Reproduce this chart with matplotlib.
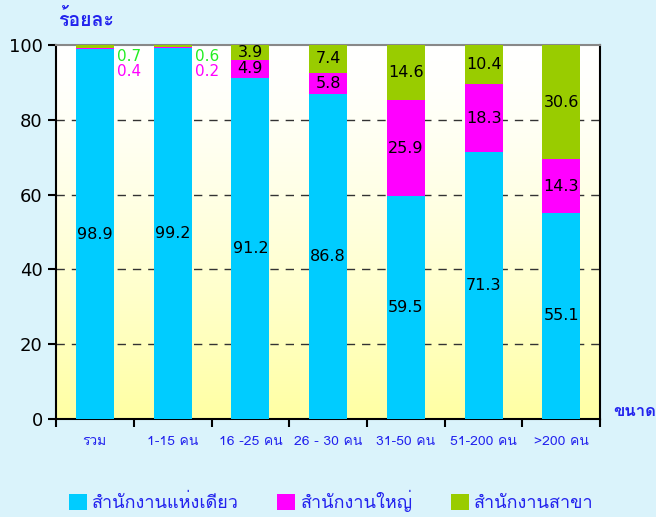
import numpy as np
import matplotlib.pyplot as plt
from matplotlib import font_manager

# categories and values (percent)
categories = ['รวม', '1-15 คน', '16 -25 คน', '26 - 30 คน', '31-50 คน', '51-200 คน', '>200 คน']
single_office = [98.9, 99.2, 91.2, 86.8, 59.5, 71.3, 55.1]
head_office = [0.4, 0.2, 4.9, 5.8, 25.9, 18.3, 14.3]
branch_office = [0.7, 0.6, 3.9, 7.4, 14.6, 10.4, 30.6]
series_names = ['สำนักงานแห่งเดียว', 'สำนักงานใหญ่', 'สำนักงานสาขา']

# pick a font that has Thai glyphs
thai_candidates = ['Tahoma', 'Loma', 'Garuda', 'Norasi', 'Noto Sans Thai', 'Noto Sans Thai UI',
                   'Sarabun', 'TH Sarabun New', 'Kinnari', 'Waree', 'Umpush', 'Laksaman']
installed = {f.name for f in font_manager.fontManager.ttflist}
thai_fam = [f for f in thai_candidates if f in installed] + ['DejaVu Sans']
plt.rcParams['font.family'] = ['DejaVu Sans']

c_single = '#00CCFF'
c_head = '#FF00FF'
c_branch = '#99CC00'
bg = '#DAF3FB'
blue_txt = '#2222EE'

fig = plt.figure(figsize=(6.56, 5.17), dpi=100, facecolor=bg)
ax = fig.add_axes([0.0854, 0.1896, 0.8296, 0.7234])

x = np.arange(len(categories))
w = 0.49

# gradient background of the plot area (white at top, pale yellow at bottom)
grad = np.linspace(0, 1, 256).reshape(-1, 1)
top = np.array([1.0, 1.0, 1.0])
bot = np.array([1.0, 1.0, 0.64])
img = top + (bot - top) * grad[:, :, None] ** 1.4
ax.imshow(img, extent=[-0.5, len(categories) - 0.5, 0, 100], origin='upper', aspect='auto', zorder=0)

b1 = ax.bar(x, single_office, w, color=c_single, zorder=3)
b2 = ax.bar(x, head_office, w, bottom=single_office, color=c_head, zorder=3)
bottom3 = np.array(single_office) + np.array(head_office)
b3 = ax.bar(x, branch_office, w, bottom=bottom3, color=c_branch, zorder=3)

ax.set_xlim(-0.5, len(categories) - 0.5)
ax.set_ylim(0, 100)
ax.set_yticks([0, 20, 40, 60, 80, 100])
ax.tick_params(axis='y', labelsize=13, length=6, width=1.5, direction='out')
ax.set_xticks(np.arange(len(categories) + 1) - 0.5)
ax.set_xticklabels([])
ax.tick_params(axis='x', length=6, width=1.5, direction='out')
for i, c in enumerate(categories):
    ax.text(i, -4.5, c, ha='center', va='top', fontsize=10, color=blue_txt, family=thai_fam)

for yv in [20, 40, 60, 80]:
    ax.axhline(yv, color='#333333', lw=1, ls=(0, (6, 5)), zorder=1)

for s in ['left', 'bottom', 'right']:
    ax.spines[s].set_linewidth(1.5)
    ax.spines[s].set_color('black')
ax.spines['top'].set_color('#888888')
ax.spines['top'].set_linewidth(1.5)

# value labels
for i in range(len(categories)):
    ax.text(x[i], single_office[i] / 2, f'{single_office[i]:.1f}', ha='center', va='center', fontsize=11.5, zorder=4)
    if i < 2:
        ax.text(x[i] + w / 2 + 0.04, 96.8, f'{branch_office[i]:.1f}', ha='left', va='center',
                fontsize=11, color='#22EE22', zorder=4)
        ax.text(x[i] + w / 2 + 0.04, 93.0, f'{head_office[i]:.1f}', ha='left', va='center',
                fontsize=11, color=c_head, zorder=4)
    else:
        ax.text(x[i], single_office[i] + head_office[i] / 2, f'{head_office[i]:.1f}', ha='center', va='center',
                fontsize=11.5, zorder=4)
        ax.text(x[i], bottom3[i] + branch_office[i] / 2, f'{branch_office[i]:.1f}', ha='center', va='center',
                fontsize=11.5, zorder=4)

fig.text(0.088, 0.962, 'ร้อยละ', fontsize=14, color=blue_txt, fontweight='bold', ha='left', va='center',
         family=thai_fam)
fig.text(0.935, 0.205, 'ขนาด', fontsize=12, color=blue_txt, fontweight='bold', ha='left', va='center',
         family=thai_fam)

leg = fig.legend([b1, b2, b3], series_names, loc='lower center', bbox_to_anchor=(0.505, -0.022), ncol=3,
                 frameon=False, prop={'family': thai_fam, 'size': 13}, handlelength=1.0, handleheight=1.0,
                 columnspacing=2.1, handletextpad=0.3)
for t in leg.get_texts():
    t.set_color(blue_txt)

plt.savefig('out.png', dpi=100, facecolor=bg)
